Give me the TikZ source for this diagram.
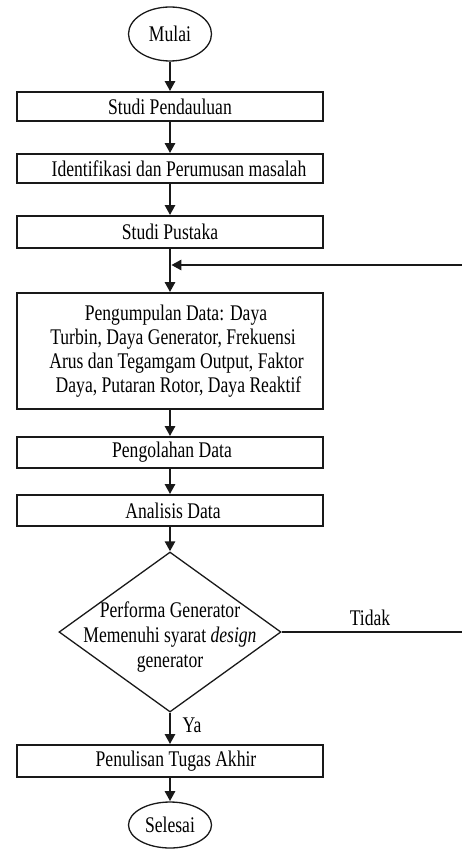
\documentclass[tikz,border=0pt]{standalone}
\usepackage{fontspec}
\setmainfont{Liberation Serif}
\usetikzlibrary{arrows.meta,shapes.geometric}
\lineskiplimit=-30pt
\newcommand\boxfont{\fontsize{17.6}{18.9}\selectfont}
\newcommand\diafont{\fontsize{17.6}{19.7}\selectfont}
\begin{document}
\begin{tikzpicture}[x=1pt,y=-1pt,
  vt/.style={yscale=1.27, transform shape, font=\boxfont, align=center, inner sep=0pt},
  box/.style={vt, draw=black!90, line width=1.4pt, rectangle, minimum width=306pt},
  term/.style={vt, draw=black!90, line width=1.3pt, ellipse, minimum width=83pt},
  conn/.style={line width=2.6pt, draw=black!90},
  arr/.style={conn, -{Triangle[length=10pt,width=10pt]}},
]
\useasboundingbox (0,0) rectangle (462,850);

\node[term, minimum height=42.5pt] (mulai) at (170,34) {Mulai};
\node[box, minimum height=22.8pt] (b1) at (170,106.5) {Studi Pendauluan};
\node[box, minimum height=22.8pt] (b2) at (170,168.5) {\hspace*{18pt}Identifikasi dan Perumusan masalah};
\node[box, minimum height=25.2pt] (b3) at (170,232) {Studi Pustaka};
\coordinate (join) at (170,265);
\coordinate (fb) at (462,265);
\node[box, minimum height=91.3pt] (b4) at (170,351) {\hspace*{12pt}Pengumpulan Data: Daya\\ \hspace*{6pt}Turbin, Daya Generator, Frekuensi\\ \hspace*{13pt}Arus dan Tegamgam Output, Faktor\\ \hspace*{17pt}Daya, Putaran Rotor, Daya Reaktif};
\node[box, minimum height=24.4pt] (b5) at (170,452.5) {\hspace*{4pt}Pengolahan Data};
\node[box, minimum height=24.4pt] (b6) at (170,510.5) {\hspace*{6pt}Analisis Data};
\node[draw=black!90, diamond, minimum width=222pt, minimum height=160pt, inner sep=0pt, line width=1.3pt] (dec) at (170,632) {};
\node[vt, font=\diafont] (dect) at (170,637) {Performa Generator\\ Memenuhi syarat \textit{design}\\ generator};
\coordinate (tidakR) at (462,632);
\node[box, minimum height=25.2pt] (b7) at (170,761) {\hspace*{12pt}Penulisan Tugas Akhir};
\node[term, minimum height=36.2pt] (selesai) at (170,825) {Selesai};

\draw[arr] (mulai) -- (b1);
\draw[arr] (b1) -- (b2);
\draw[arr] (b2) -- (b3);
\draw[arr] (b3) -- (b4);
\draw[arr, shorten >=1.3pt] (fb) -- (join);
\draw[arr] (b4) -- (b5);
\draw[arr] (b5) -- (b6);
\draw[arr] (b6) -- (dec);
\draw[arr] (dec) -- (b7);
\draw[arr] (b7) -- (selesai);
\draw[conn] (dec.east) -- (tidakR);

\node[vt] (ya) at (192,725) {Ya};
\node[vt] (tidak) at (370,618) {Tidak};
\end{tikzpicture}
\end{document}
